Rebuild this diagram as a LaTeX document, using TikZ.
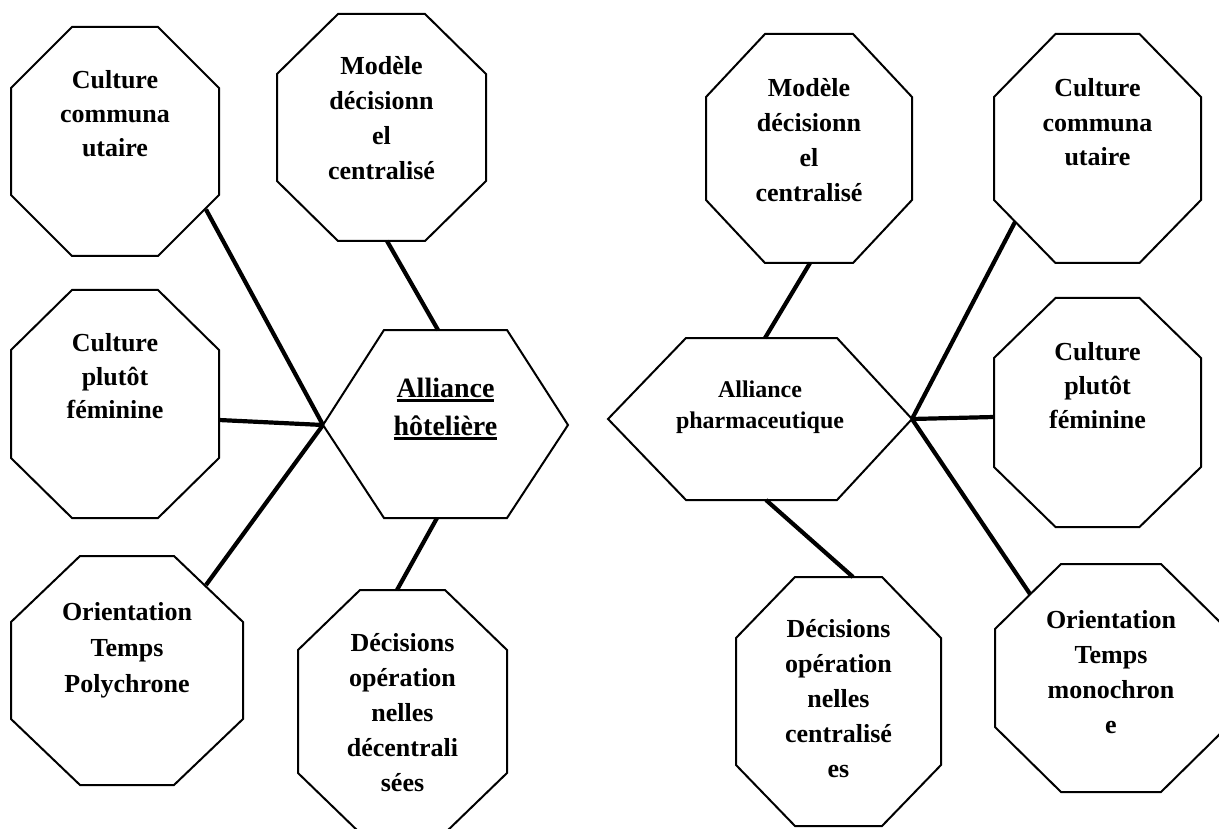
\documentclass[tikz,border=0pt]{standalone}
\usepackage{fontspec}
\setmainfont{Liberation Serif}
\newcommand{\octg}[6]{%
  \draw[shapeline] (#1+#5,#2) -- (#3-#5,#2) -- (#3,#2+#6) -- (#3,#4-#6) -- (#3-#5,#4) -- (#1+#5,#4) -- (#1,#4-#6) -- (#1,#2+#6) -- cycle;}
\newcommand{\lbltxt}[3]{{\fontsize{#1}{#2}\selectfont\begin{tabular}[t]{@{}c@{}}#3\end{tabular}}}
\newcommand{\myul}[1]{\setbox0\hbox{#1}\rlap{\rule[-4.5pt]{\wd0}{2.5pt}}\box0}
\begin{document}
\begin{tikzpicture}[x=1pt,y=-1pt,
  shapeline/.style={line width=2pt, line join=miter},
  conn/.style={line width=4.2pt},
  lab/.style={anchor=base, inner sep=0pt, font=\bfseries}]
\useasboundingbox[fill=white] (0,0) rectangle (1219,829);

% ---------------- left group ----------------
\octg{11}{27}{219}{256}{61}{61}
\node[lab] (ccL) at (115,89) {\lbltxt{26}{34}{Culture\\communa\\utaire}};
\octg{277}{14}{486}{241}{61}{60}
\node[lab] (mdL) at (381.5,75) {\lbltxt{26}{35}{Modèle\\décisionn\\el\\centralisé}};
\octg{11}{290}{219}{518}{61}{60}
\node[lab] (cfL) at (115,351) {\lbltxt{26}{34}{Culture\\plutôt\\féminine}};
\octg{11}{556}{243}{785}{69}{66}
\node[lab] (otL) at (127,620) {\lbltxt{26}{36}{Orientation\\Temps\\Polychrone}};
\octg{298}{590}{507}{833}{62}{60}
\node[lab] (doL) at (402.5,651) {\lbltxt{26}{35}{Décisions\\opération\\nelles\\décentrali\\sées}};
\draw[shapeline] (323,425) -- (384,330) -- (507,330) -- (568,425) -- (507,518) -- (384,518) -- cycle;
\node[lab] (hL) at (445.5,397) {\lbltxt{28}{38}{\myul{Alliance}\\\myul{hôtelière}}};

\coordinate (jL) at (323,425);
\coordinate (ccL-c) at (206,209.5);
\coordinate (cfL-c) at (219,420);
\coordinate (otL-c) at (206,585);
\coordinate (mdL-c) at (387,241);
\coordinate (hL-n) at (438,330);
\coordinate (hL-s) at (437,518);
\coordinate (doL-c) at (397,590);
\draw[conn] (ccL-c) -- (jL);
\draw[conn] (cfL-c) -- (jL);
\draw[conn] (otL-c) -- (jL);
\draw[conn] (mdL-c) -- (hL-n);
\draw[conn] (hL-s) -- (doL-c);

% ---------------- right group ----------------
\octg{706}{34}{912}{263}{59}{63}
\node[lab] (mdR) at (809,97) {\lbltxt{26}{35}{Modèle\\décisionn\\el\\centralisé}};
\octg{994}{34}{1201}{263}{61.5}{63}
\node[lab] (ccR) at (1097.5,97) {\lbltxt{26}{34.5}{Culture\\communa\\utaire}};
\octg{994}{298}{1201}{527}{61.5}{60}
\node[lab] (cfR) at (1097.5,360) {\lbltxt{26}{34}{Culture\\plutôt\\féminine}};
\octg{995}{564}{1227}{792}{66}{65}
\node[lab] (otR) at (1111,628) {\lbltxt{26}{35}{Orientation\\Temps\\monochron\\e}};
\octg{736}{577}{941}{826}{59}{61}
\node[lab] (doR) at (838.5,637) {\lbltxt{26}{35}{Décisions\\opération\\nelles\\centralisé\\es}};
\draw[shapeline] (608,419) -- (686,338) -- (837,338) -- (912,419) -- (837,500) -- (686,500) -- cycle;
\node[lab] (hR) at (760,397) {\lbltxt{24}{31}{Alliance\\pharmaceutique}};

\coordinate (jR) at (912,419);
\coordinate (ccR-c) at (1015,222);
\coordinate (cfR-c) at (994,417);
\coordinate (otR-c) at (1030,594);
\coordinate (mdR-c) at (810,263);
\coordinate (hR-n) at (765,338);
\coordinate (hR-s) at (766,500);
\coordinate (doR-c) at (853,577);
\draw[conn] (ccR-c) -- (jR);
\draw[conn] (cfR-c) -- (jR);
\draw[conn] (otR-c) -- (jR);
\draw[conn] (mdR-c) -- (hR-n);
\draw[conn] (hR-s) -- (doR-c);
\end{tikzpicture}
\end{document}
